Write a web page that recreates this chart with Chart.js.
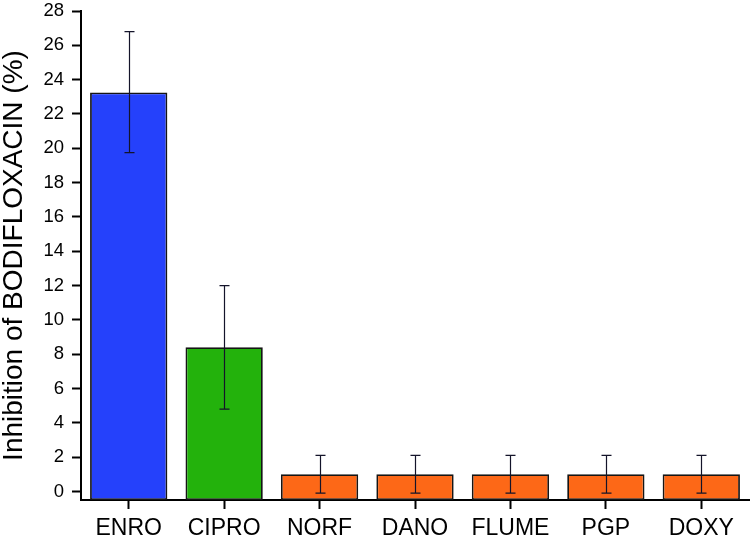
<!DOCTYPE html>
<html>
<head>
<meta charset="utf-8">
<script src="https://cdn.jsdelivr.net/npm/chart.js@4"></script>
<style>
  body { margin: 0; background: #fff; }
  #wrap { width: 751px; height: 538px; }
</style>
</head>
<body>
<div id="wrap"><canvas id="inhibitionChart"></canvas></div>
<script>
const drugs = ['ENRO', 'CIPRO', 'NORF', 'DANO', 'FLUME', 'PGP', 'DOXY'];
const inhibition = [23.25, 8.4, 1.0, 1.0, 1.0, 1.0, 1.0];
const errLow = [19.75, 4.8, -0.1, -0.1, -0.1, -0.1, -0.1];
const errHigh = [26.8, 12.0, 2.1, 2.1, 2.1, 2.1, 2.1];
const yTicks = [0, 2, 4, 6, 8, 10, 12, 14, 16, 18, 20, 22, 24, 26, 28];
const barColors = ['#2541fb', '#23b20c', '#fd6817', '#fd6817', '#fd6817', '#fd6817', '#fd6817'];

const FONT = "'Liberation Sans', Arial, sans-serif";

// draws the error bars on top of the bars
const errorBars = {
    id: 'errorBars',
    afterDatasetsDraw(chart) {
        const ctx = chart.ctx;
        const y = chart.scales.y;
        const meta = chart.getDatasetMeta(0);
        ctx.save();
        ctx.strokeStyle = '#14142a';
        ctx.lineWidth = 1.2;
        meta.data.forEach((bar, i) => {
            const x = Math.round(bar.x) + 0.5;
            const top = y.getPixelForValue(errHigh[i]);
            const bot = y.getPixelForValue(errLow[i]);
            ctx.beginPath();
            ctx.moveTo(x, top); ctx.lineTo(x, bot);
            ctx.moveTo(x - 5, top); ctx.lineTo(x + 5, top);
            ctx.moveTo(x - 5, bot); ctx.lineTo(x + 5, bot);
            ctx.stroke();
        });
        ctx.restore();
    }
};

document.addEventListener('DOMContentLoaded', function() {
    const ctx = document.getElementById('inhibitionChart').getContext('2d');
    new Chart(ctx, {
        type: 'bar',
        data: {
            labels: drugs,
            datasets: [{
                data: inhibition,
                base: -0.5,
                backgroundColor: barColors,
                borderColor: '#151515',
                borderWidth: 1.8,
                borderSkipped: false,
                barPercentage: 0.81,
                categoryPercentage: 1
            }]
        },
        options: {
            responsive: true,
            maintainAspectRatio: false,
            animation: false,
            layout: { padding: { top: 11, right: 2, left: 0, bottom: 0 } },
            plugins: {
                legend: { display: false },
                tooltip: { enabled: false }
            },
            scales: {
                x: {
                    afterFit: s => { s.height = 38; s.paddingLeft = 0; s.paddingRight = 0; },
                    grid: {
                        offset: false,
                        drawOnChartArea: false,
                        tickLength: 9,
                        tickColor: '#000',
                        tickWidth: 2
                    },
                    border: { display: true, color: '#000', width: 2 },
                    ticks: {
                        color: '#000',
                        padding: 6,
                        maxRotation: 0,
                        font: { family: FONT, size: 23 }
                    }
                },
                y: {
                    min: -0.5,
                    max: 28,
                    afterFit: s => { s.width = 81; s.paddingTop = 0; s.paddingBottom = 0; },
                    afterBuildTicks: s => { s.ticks = yTicks.map(v => ({ value: v })); },
                    grid: {
                        drawOnChartArea: false,
                        tickLength: 9,
                        tickColor: '#000',
                        tickWidth: 2
                    },
                    border: { display: true, color: '#000', width: 2 },
                    ticks: {
                        color: '#000',
                        padding: 8,
                        font: { family: FONT, size: 18.5 }
                    },
                    title: {
                        display: true,
                        text: 'Inhibition of BODIFLOXACIN (%)',
                        color: '#000',
                        padding: 0,
                        font: { family: FONT, size: 28, lineHeight: 1 }
                    }
                }
            }
        },
        plugins: [errorBars]
    });
});
</script>
</body>
</html>
